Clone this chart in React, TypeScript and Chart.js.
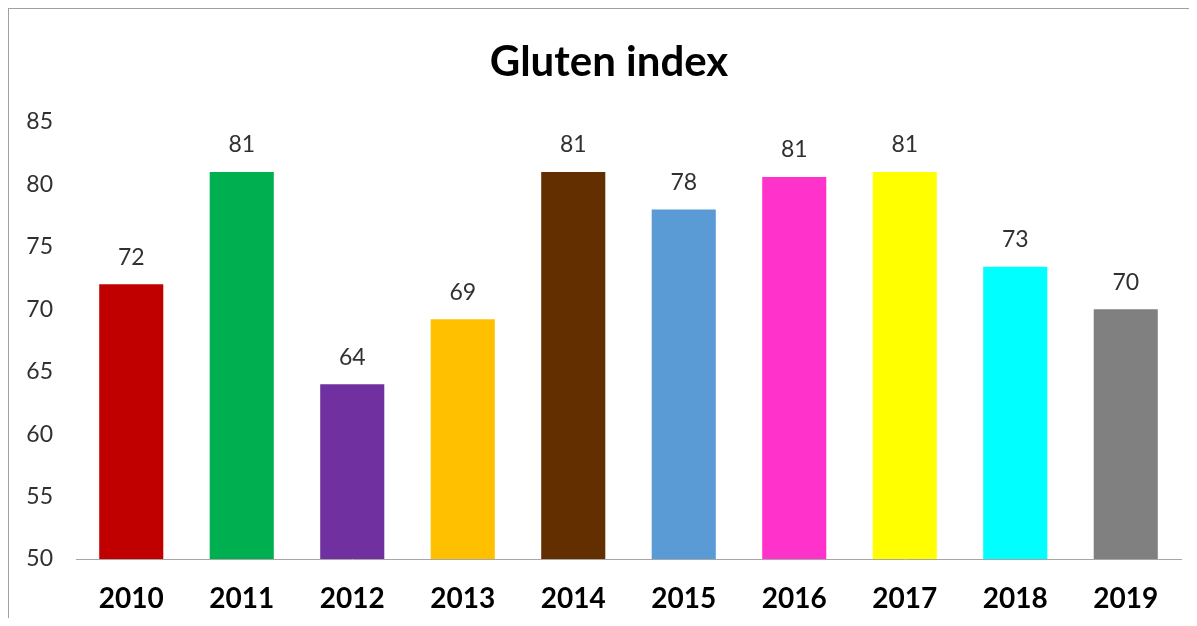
import React, { useEffect, useRef } from "react";
import { Chart, registerables } from "chart.js";

Chart.register(...registerables);

const years = ["2010", "2011", "2012", "2013", "2014", "2015", "2016", "2017", "2018", "2019"];
const glutenIndex = [72.0, 81.0, 64.0, 69.2, 81.0, 78.0, 80.6, 81.0, 73.4, 70.0];
const barColors = [
  "#C00000", "#00B050", "#7030A0", "#FFC000", "#632F00",
  "#5B9BD5", "#FF33CC", "#FFFF00", "#00FFFF", "#808080",
];
const yTicks = [50, 55, 60, 65, 70, 75, 80, 85];
const chartTitle = "Gluten index";

const FONT = "Lato, 'Open Sans', sans-serif";

const valueLabels = {
  id: "valueLabels",
  afterDatasetsDraw(chart: any) {
    const ctx = chart.ctx;
    const meta = chart.getDatasetMeta(0);
    ctx.save();
    ctx.font = `23px ${FONT}`;
    ctx.fillStyle = "#303030";
    ctx.textAlign = "center";
    ctx.textBaseline = "middle";
    meta.data.forEach((bar: any, i: number) => {
      const v = chart.data.datasets[0].data[i] as number;
      ctx.fillText(String(Math.round(v)), bar.x, bar.y - 27);
    });
    ctx.restore();
  },
};

const centeredTitle = {
  id: "centeredTitle",
  afterDraw(chart: any) {
    const ctx = chart.ctx;
    ctx.save();
    ctx.font = `bold 42px ${FONT}`;
    ctx.fillStyle = "#000000";
    ctx.textAlign = "center";
    ctx.textBaseline = "middle";
    ctx.fillText(chartTitle, chart.width / 2 + 6, 53);
    ctx.restore();
  },
};

export default function App() {
  const ref = useRef<HTMLCanvasElement | null>(null);
  useEffect(() => {
    if (!ref.current) return;
    const chart = new Chart(ref.current, {
      type: "bar",
      data: {
        labels: years,
        datasets: [
          {
            data: glutenIndex,
            backgroundColor: barColors,
            borderWidth: 0,
            categoryPercentage: 1,
            barPercentage: 0.58,
          },
        ],
      },
      options: {
        animation: false,
        responsive: false,
        maintainAspectRatio: false,
        layout: { padding: { left: 0, right: 16, top: 113, bottom: 0 } },
        plugins: {
          legend: { display: false },
          tooltip: { enabled: false },
          title: { display: false },
        },
        scales: {
          x: {
            grid: { display: false, drawTicks: false },
            border: { display: true, color: "#A6A6A6", width: 1 },
            ticks: {
              color: "#000000",
              font: { family: FONT, size: 28, weight: "bold" },
              padding: 23,
              maxRotation: 0,
            },
            afterFit(scale: any) {
              scale.height = 67;
            },
          },
          y: {
            min: 50,
            max: 85,
            grid: { display: false, drawTicks: false },
            border: { display: false },
            afterBuildTicks(scale: any) {
              scale.ticks = yTicks.map((v) => ({ value: v }));
            },
            ticks: {
              color: "#303030",
              font: { family: FONT, size: 23 },
              padding: 23,
            },
            afterFit(scale: any) {
              scale.width = 67;
            },
          },
        },
      },
      plugins: [valueLabels, centeredTitle],
    });
    return () => chart.destroy();
  }, []);

  return (
    <div
      style={{
        width: 1188,
        height: 617,
        marginBottom: -8,
        borderTop: "1px solid #A0A0A0",
        borderLeft: "1px solid #A0A0A0",
        background: "#fff",
      }}
    >
      <canvas ref={ref} width={1188} height={617} style={{ display: "block" }} />
    </div>
  );
}
